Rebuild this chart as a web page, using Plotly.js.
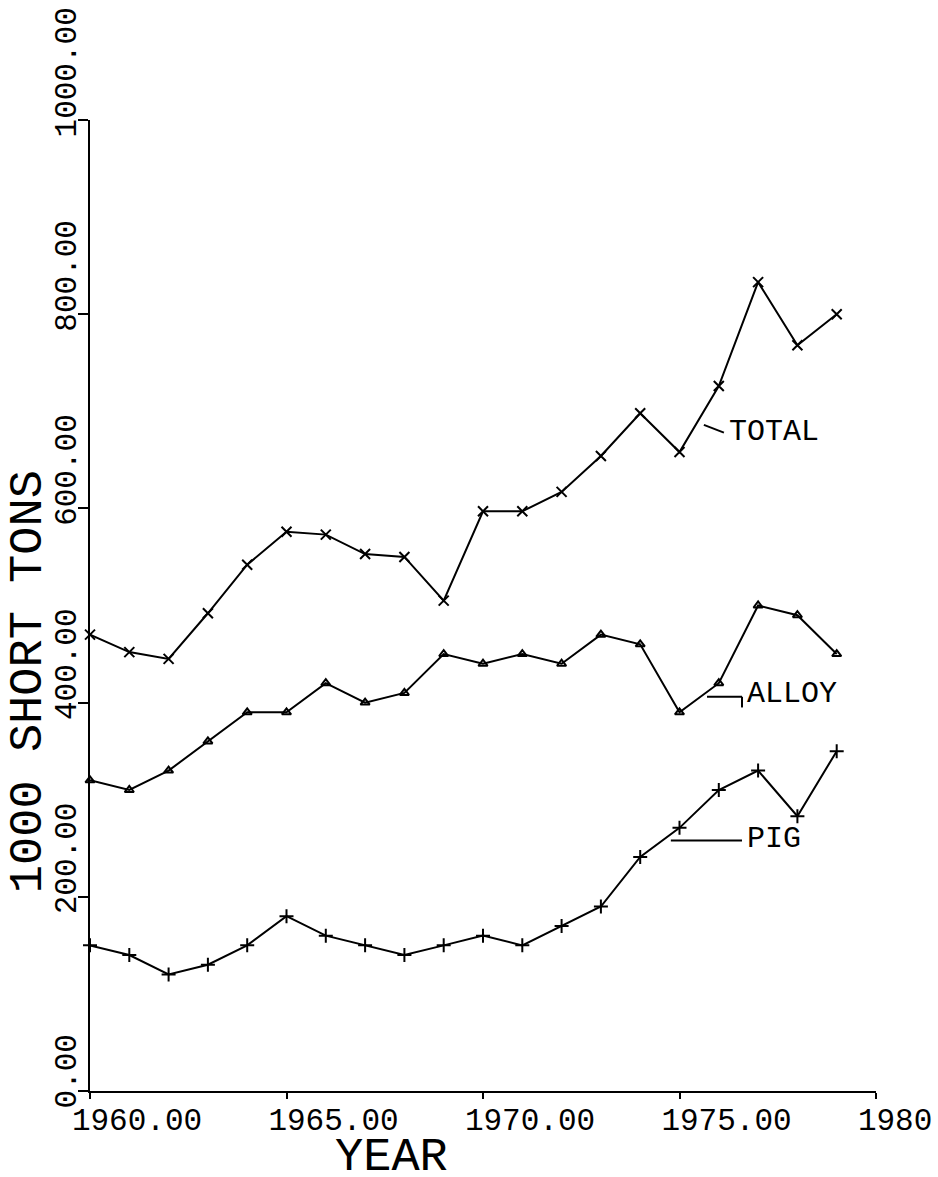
<!DOCTYPE html>
<html>
<head>
<meta charset="utf-8">
<script src="https://cdn.plot.ly/plotly-3.0.1.min.js"></script>
<style>
  html, body { margin: 0; padding: 0; background: #ffffff; }
  #chart { width: 938px; height: 1177px; }
</style>
</head>
<body>
<div id="chart"></div>
<script>
// ---- data ----
var years = [1960, 1961, 1962, 1963, 1964, 1965, 1966, 1967, 1968, 1969,
             1970, 1971, 1972, 1973, 1974, 1975, 1976, 1977, 1978, 1979];
var totalTons = [470, 452, 445, 492, 542, 576, 573, 553, 550, 505,
                 597, 597, 617, 654, 698, 658, 726, 833, 768, 800];
var alloyTons = [320, 310, 330, 360, 390, 390, 420, 400, 410, 450,
                 440, 450, 440, 470, 460, 390, 420, 500, 490, 450];
var pigTons   = [150, 140, 120, 130, 150, 180, 160, 150, 140, 150,
                 160, 150, 170, 190, 241, 271, 310, 330, 283, 350];

var xTickVals = [1960, 1965, 1970, 1975, 1980];
var xTickText = ["1960.00", "1965.00", "1970.00", "1975.00", "1980.00"];
var yTickVals = [0, 200, 400, 600, 800, 1000];
var yTickText = ["0.00", "200.00", "400.00", "600.00", "800.00", "1000.00"];

var seriesNames = ["TOTAL", "ALLOY", "PIG"];

// pad labels to equal length so they start at the same offset from the tick
function pad(s, n) { while (s.length < n) { s = s + "\u00a0"; } return s; }
var yTickTextPadded = yTickText.map(function (s) { return pad(s, 7); });

var lineStyle = { color: "#000000", width: 2 };
var tickFont = { family: "Liberation Mono, DejaVu Sans Mono, monospace", size: 31, color: "#000000" };
var labelFont = { family: "Liberation Mono, Courier New, monospace", size: 30, color: "#000000" };
var titleFont = { family: "Liberation Mono, DejaVu Sans Mono, monospace", size: 47, color: "#000000" };

var traces = [
  {
    x: years, y: totalTons, name: seriesNames[0], type: "scatter", mode: "lines+markers",
    line: lineStyle, cliponaxis: false,
    marker: { symbol: "x-thin-open", size: 10, color: "#000000", line: { color: "#000000", width: 2 } }
  },
  {
    x: years, y: alloyTons, name: seriesNames[1], type: "scatter", mode: "lines+markers",
    line: lineStyle, cliponaxis: false,
    marker: { symbol: "triangle-up-open", size: 8, color: "#000000", line: { color: "#000000", width: 2 } }
  },
  {
    x: years, y: pigTons, name: seriesNames[2], type: "scatter", mode: "lines+markers",
    line: lineStyle, cliponaxis: false,
    marker: { symbol: "cross-thin-open", size: 10, color: "#000000", line: { color: "#000000", width: 2 } }
  }
];

var layout = {
  width: 938,
  height: 1177,
  margin: { l: 90, r: 62, t: 120, b: 86, pad: 0 },
  paper_bgcolor: "#ffffff",
  plot_bgcolor: "#ffffff",
  showlegend: false,
  xaxis: {
    range: [1960, 1980],
    showgrid: false, zeroline: false,
    showline: true, linecolor: "#000000", linewidth: 2,
    ticks: "outside", ticklen: 6, tickwidth: 2, tickcolor: "#000000",
    tickmode: "array", tickvals: xTickVals, ticktext: xTickText,
    tickangle: 0, tickfont: tickFont,
    ticklabelshift: 47, ticklabelstandoff: -6,
    ticklabeloverflow: "allow",
    automargin: false, fixedrange: true
  },
  yaxis: {
    range: [0, 1000],
    showgrid: false, zeroline: false,
    showline: true, linecolor: "#000000", linewidth: 2,
    ticks: "outside", ticklen: 10, tickwidth: 2, tickcolor: "#000000",
    tickmode: "array", tickvals: yTickVals, ticktext: yTickTextPadded,
    tickangle: -90, tickfont: tickFont,
    ticklabelshift: -43, ticklabelstandoff: -10,
    ticklabeloverflow: "allow",
    automargin: false, fixedrange: true
  },
  annotations: [
    { xref: "x", yref: "y", x: 1976.21, y: 679, text: seriesNames[0], showarrow: false,
      xanchor: "left", yanchor: "middle", font: labelFont },
    { xref: "x", yref: "y", x: 1976.66, y: 409, text: seriesNames[1], showarrow: false,
      xanchor: "left", yanchor: "middle", font: labelFont },
    { xref: "x", yref: "y", x: 1976.66, y: 260, text: seriesNames[2], showarrow: false,
      xanchor: "left", yanchor: "middle", font: labelFont },
    { xref: "paper", yref: "paper", x: -0.079, y: 0.422, text: "1000 SHORT TONS", showarrow: false,
      textangle: -90, xanchor: "center", yanchor: "middle", font: titleFont },
    { xref: "paper", yref: "paper", x: 0.384, y: -0.069, text: "YEAR", showarrow: false,
      xanchor: "center", yanchor: "middle", font: titleFont }
  ],
  shapes: [
    { type: "line", xref: "x", yref: "y", x0: 1975.62, y0: 686, x1: 1976.13, y1: 678,
      line: { color: "#000000", width: 2 } },
    { type: "line", xref: "x", yref: "y", x0: 1975.70, y0: 406, x1: 1976.59, y1: 406,
      line: { color: "#000000", width: 2 } },
    { type: "line", xref: "x", yref: "y", x0: 1976.59, y0: 406, x1: 1976.59, y1: 395,
      line: { color: "#000000", width: 2 } },
    { type: "line", xref: "x", yref: "y", x0: 1974.78, y0: 258, x1: 1976.59, y1: 258,
      line: { color: "#000000", width: 2 } }
  ]
};

Plotly.newPlot("chart", traces, layout, { staticPlot: true, displayModeBar: false });
</script>
</body>
</html>
